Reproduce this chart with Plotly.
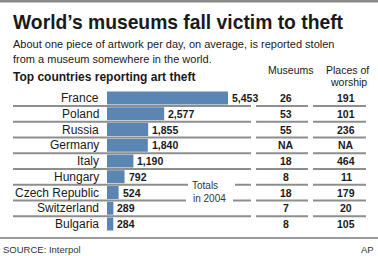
import plotly.graph_objects as go

countries = ["France", "Poland", "Russia", "Germany", "Italy", "Hungary",
             "Czech Republic", "Switzerland", "Bulgaria"]
thefts = [5453, 2577, 1855, 1840, 1190, 792, 524, 289, 284]
museums = ["26", "53", "55", "NA", "18", "8", "18", "7", "8"]
worship = ["191", "101", "236", "NA", "464", "11", "179", "20", "105"]

title = "World\u2019s museums fall victim to theft"
subtitle1 = "About one piece of artwork per day, on average, is reported stolen"
subtitle2 = "from a museum somewhere in the world."
chart_title = "Top countries reporting art theft"
col_museums = "Museums"
col_worship = ["Places of", "worship"]
totals_note = ["Totals", "in 2004"]
source = "SOURCE: Interpol"
credit = "AP"

W, H = 378, 256
FONT = "Liberation Sans, Arial, sans-serif"
TXT = "#1a1a1a"
LINE = "#8e8e8e"
BAR = "#5b86b4"


def px(x):
    return x / W


def py(y):
    return 1 - y / H


fig = go.Figure()
fig.add_trace(go.Bar(
    x=thefts, y=countries, orientation="h",
    marker=dict(color=BAR, line=dict(width=0)),
    width=0.83, hoverinfo="skip",
))

ann = []
shapes = []


def text(x, y, s, size, bold=False, xanchor="left", color=TXT, xref="paper", yref="paper", xshift=0):
    ann.append(dict(
        x=x, y=y, xref=xref, yref=yref, text=(f"<b>{s}</b>" if bold else s),
        showarrow=False, xanchor=xanchor, yanchor="middle", xshift=xshift,
        font=dict(family=FONT, size=size, color=color),
    ))


def hline(x0, x1, y, yref="paper", width=2, color=LINE):
    shapes.append(dict(type="line", xref="paper", yref=yref,
                       x0=px(x0), x1=px(x1), y0=y, y1=y,
                       line=dict(color=color, width=width)))


# header texts
text(px(11), py(22), title, 19.3, bold=True)
text(px(11), py(44), subtitle1, 11)
text(px(11), py(59), subtitle2, 11)
text(px(11), py(77), chart_title, 12, bold=True)
text(px(291), py(70), col_museums, 10.5, xanchor="center")
text(px(347), py(70), col_worship[0], 10.5, xanchor="center")
text(px(348), py(82), col_worship[1], 10.5, xanchor="center")

# rows
for i, c in enumerate(countries):
    text(px(101), c, c, 12, xanchor="right", yref="y")
    text(thefts[i], c, f"{thefts[i]:,}", 10.5, bold=True, xref="x", yref="y", xshift=2)
    text(px(286), c, museums[i], 10.5, bold=True, xanchor="center", yref="y")
    text(px(346), c, worship[i], 10.5, bold=True, xanchor="center", yref="y")

# separator lines between rows
for i in range(len(countries) - 1):
    yv = i + 0.5
    if i == 5:
        hline(13, 188, yv, yref="y")
        hline(235, 251, yv, yref="y")
    elif i == 6:
        hline(13, 186, yv, yref="y")
        hline(233, 251, yv, yref="y")
    else:
        hline(13, 251, yv, yref="y")
    hline(256, 308, yv, yref="y")
    hline(313, 366, yv, yref="y")

text(px(205), py(185), totals_note[0], 10, xanchor="center", color="#333333")
text(px(209), py(198), totals_note[1], 10, xanchor="center", color="#333333")

# top and bottom rules
hline(0, W, py(1.2), width=2.5, color="#8a8a8a")
hline(0, W, py(238), width=1.8, color="#9a9a9a")

text(px(1), py(249), source, 9.5, color="#333333")
text(px(376), py(249), credit, 9.5, xanchor="right", color="#333333")

fig.update_layout(
    width=W, height=H,
    margin=dict(l=0, r=0, t=0, b=0),
    paper_bgcolor="white", plot_bgcolor="white",
    showlegend=False,
    xaxis=dict(domain=[px(107), 1], range=[0, 271 * 5453 / 121],
               visible=False, fixedrange=True),
    yaxis=dict(domain=[py(231.875), py(90.125)], range=[8.5, -0.5],
               visible=False, fixedrange=True, type="category",
               categoryorder="array", categoryarray=countries),
    annotations=ann, shapes=shapes,
)

fig.write_html("out.html", config={"displayModeBar": False})
